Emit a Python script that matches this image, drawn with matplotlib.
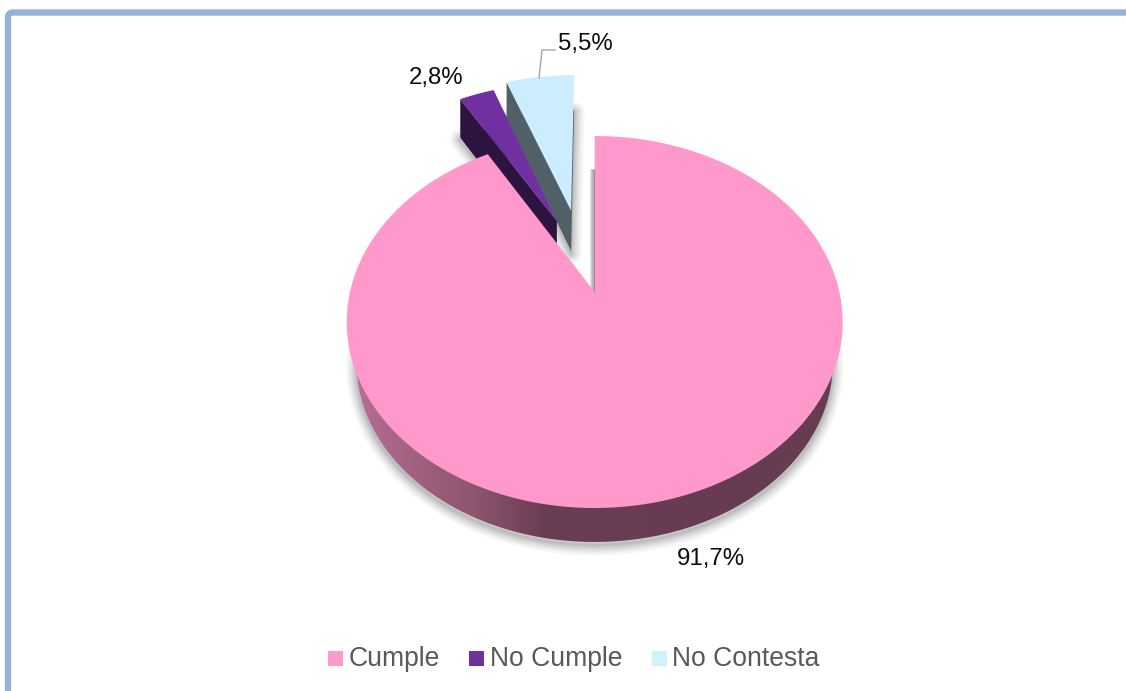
import numpy as np
import matplotlib
matplotlib.use('Agg')
import matplotlib.pyplot as plt
from matplotlib.patches import Polygon, FancyBboxPatch, Rectangle
from matplotlib.colors import to_rgb

plt.rcParams['font.family'] = ['Liberation Sans', 'DejaVu Sans']

# Data
categories = ['Cumple', 'No Cumple', 'No Contesta']
values = [91.7, 2.8, 5.5]

# Colours
TOP_COLORS = ['#FF99CC', '#7030A0', '#CCECFF']
LEGEND_COLORS = ['#FF99CC', '#7030A0', '#D2F1FF']
WALL_COLORS = ['#663D52', '#2D1340', '#515F66']
BORDER = '#95B3D7'
LEGEND_TEXT = '#595959'

# Perspective of the pie, in pixels (y goes down)
CX = 594.7
CY = 292
SX = 244.7
A = -134.06
C = 0.1613
DEPTH = [28.5, 46, 43]
# Pulled out slices are moved on the pie plane
OFFSET = [(0, 0), (-0.165, 0.418), (-0.104, 0.483)]
# The base of the big slice is a bit smaller than its top
BASE_SCALE = 0.96
BASE_CY = 363.4
TOP_CY = 322


def project(u, v, depth=0):
    w = 1 + C * v
    return CX + SX * u / w, (A * v + CY + depth) / w


def slice_points(start, end, off, depth=0):
    # Apex followed by the outer arc, angles clockwise from 12 o'clock
    t = np.radians(np.linspace(start, end, 240))
    u = np.r_[0, np.sin(t)] + off[0]
    v = np.r_[0, np.cos(t)] + off[1]
    return np.column_stack(project(u, v, depth))


def base_outline():
    t = np.radians(np.linspace(0, 360, 400))
    x, y = project(np.sin(t), np.cos(t))
    return np.column_stack([CX + BASE_SCALE * (x - CX), BASE_CY + BASE_SCALE * (y - TOP_CY)])


def soft_shadow(ax, xy, closed=True, widths=(15, 12, 9.5, 7.5, 5.5, 4, 2.5, 1.2), alpha=0.035):
    for lw in widths:
        ax.add_patch(Polygon(xy, closed=closed, fc='none', ec='k', lw=lw, alpha=alpha,
                             joinstyle='round', zorder=1))


fig = plt.figure(figsize=(11.26, 6.91), dpi=100)
ax = fig.add_axes([0, 0, 1, 1])

# Frame, only its top and left sides fall inside the figure
ax.add_patch(FancyBboxPatch((8, 12.5), 1300, 900, boxstyle='round,pad=0,rounding_size=5',
                            fc='white', ec=BORDER, lw=4.6, zorder=0))

# Slice angles: first one ends where the other two start, last one closes at 12 o'clock
edges = np.cumsum([0] + values) * 3.6

# Shadows below everything
base = base_outline()
lower = base[base[:, 1] > TOP_CY]
soft_shadow(ax, lower + [0, 3], closed=False)
for i in [1, 2]:
    soft_shadow(ax, slice_points(edges[i], edges[i + 1], OFFSET[i], DEPTH[i] + 3))
cut = np.array([project(0, 1, DEPTH[0] + 10), project(0, 0)])
soft_shadow(ax, cut + [-1.5, 0], closed=False, widths=(4.5, 3, 1.5), alpha=0.1)

# Small slices, back to front
for i in [2, 1]:
    top = slice_points(edges[i], edges[i + 1], OFFSET[i])
    low = slice_points(edges[i], edges[i + 1], OFFSET[i], DEPTH[i])
    wall = np.array([top[1], top[0], low[0], low[1]])
    ax.add_patch(Polygon(wall, closed=True, fc=WALL_COLORS[i], ec='none', zorder=2 + (2 - i)))
    ax.add_patch(Polygon(low, closed=True, fc=WALL_COLORS[i], ec='none', zorder=2 + (2 - i)))
    ax.add_patch(Polygon(top, closed=True, fc=TOP_COLORS[i], ec='none', zorder=2.5 + (2 - i)))

# Rim of the big slice with a horizontal gradient, only its lower part shows
rim = Polygon(lower, closed=True, fc='none', ec='none', transform=ax.transData)
ax.add_patch(rim)

stops_x = [345, 373, 473, 547, 850]
stops_c = ['#BC7099', '#B06A8E', '#8D5570', '#693C52', '#663D52']
grad_x = np.arange(345, 851)
grad_rgb = np.array([to_rgb(c) for c in stops_c])
grad = np.stack([np.interp(grad_x, stops_x, grad_rgb[:, k]) for k in range(3)], axis=-1)[None, :, :]
img = ax.imshow(grad, extent=(345, 850, 560, 300), aspect='auto', zorder=5, interpolation='bilinear')
img.set_clip_path(rim)

# Big slice on top, with the dark sliver of its inner wall
ax.add_patch(Polygon(slice_points(edges[0], edges[1], OFFSET[0]), closed=True,
                     fc=TOP_COLORS[0], ec='none', zorder=6))
ax.plot([CX - 0.6, CX - 0.6], [170, 291], color='#7F7F7F', lw=0.9, zorder=5.5)

# Value labels
labels = [f'{v:.1f}'.replace('.', ',') + '%' for v in values]
label_x = [711, 436, 585.5]
label_y = [559, 78, 44]
for s, x, y in zip(labels, label_x, label_y):
    ax.text(x, y, s, fontsize=17.3, color='#0D0D0D', ha='center', va='center', zorder=8)

# Leader line of the last label
ax.plot([539, 542, 555], [78, 50, 50], color='#A6A6A6', lw=1.0, zorder=7)

# Legend row
key_x = [328, 469, 652]
text_x = [348.5, 489.5, 672]
for name, color, kx, tx in zip(categories, LEGEND_COLORS, key_x, text_x):
    ax.add_patch(Rectangle((kx, 651), 15, 15, fc=color, ec='none', zorder=7))
    ax.text(tx, 666, name, fontsize=19.1, color=LEGEND_TEXT, ha='left', va='baseline', zorder=8)

ax.set_xlim(0, 1126)
ax.set_ylim(691, 0)
ax.axis('off')
fig.savefig('out.png', dpi=100)
